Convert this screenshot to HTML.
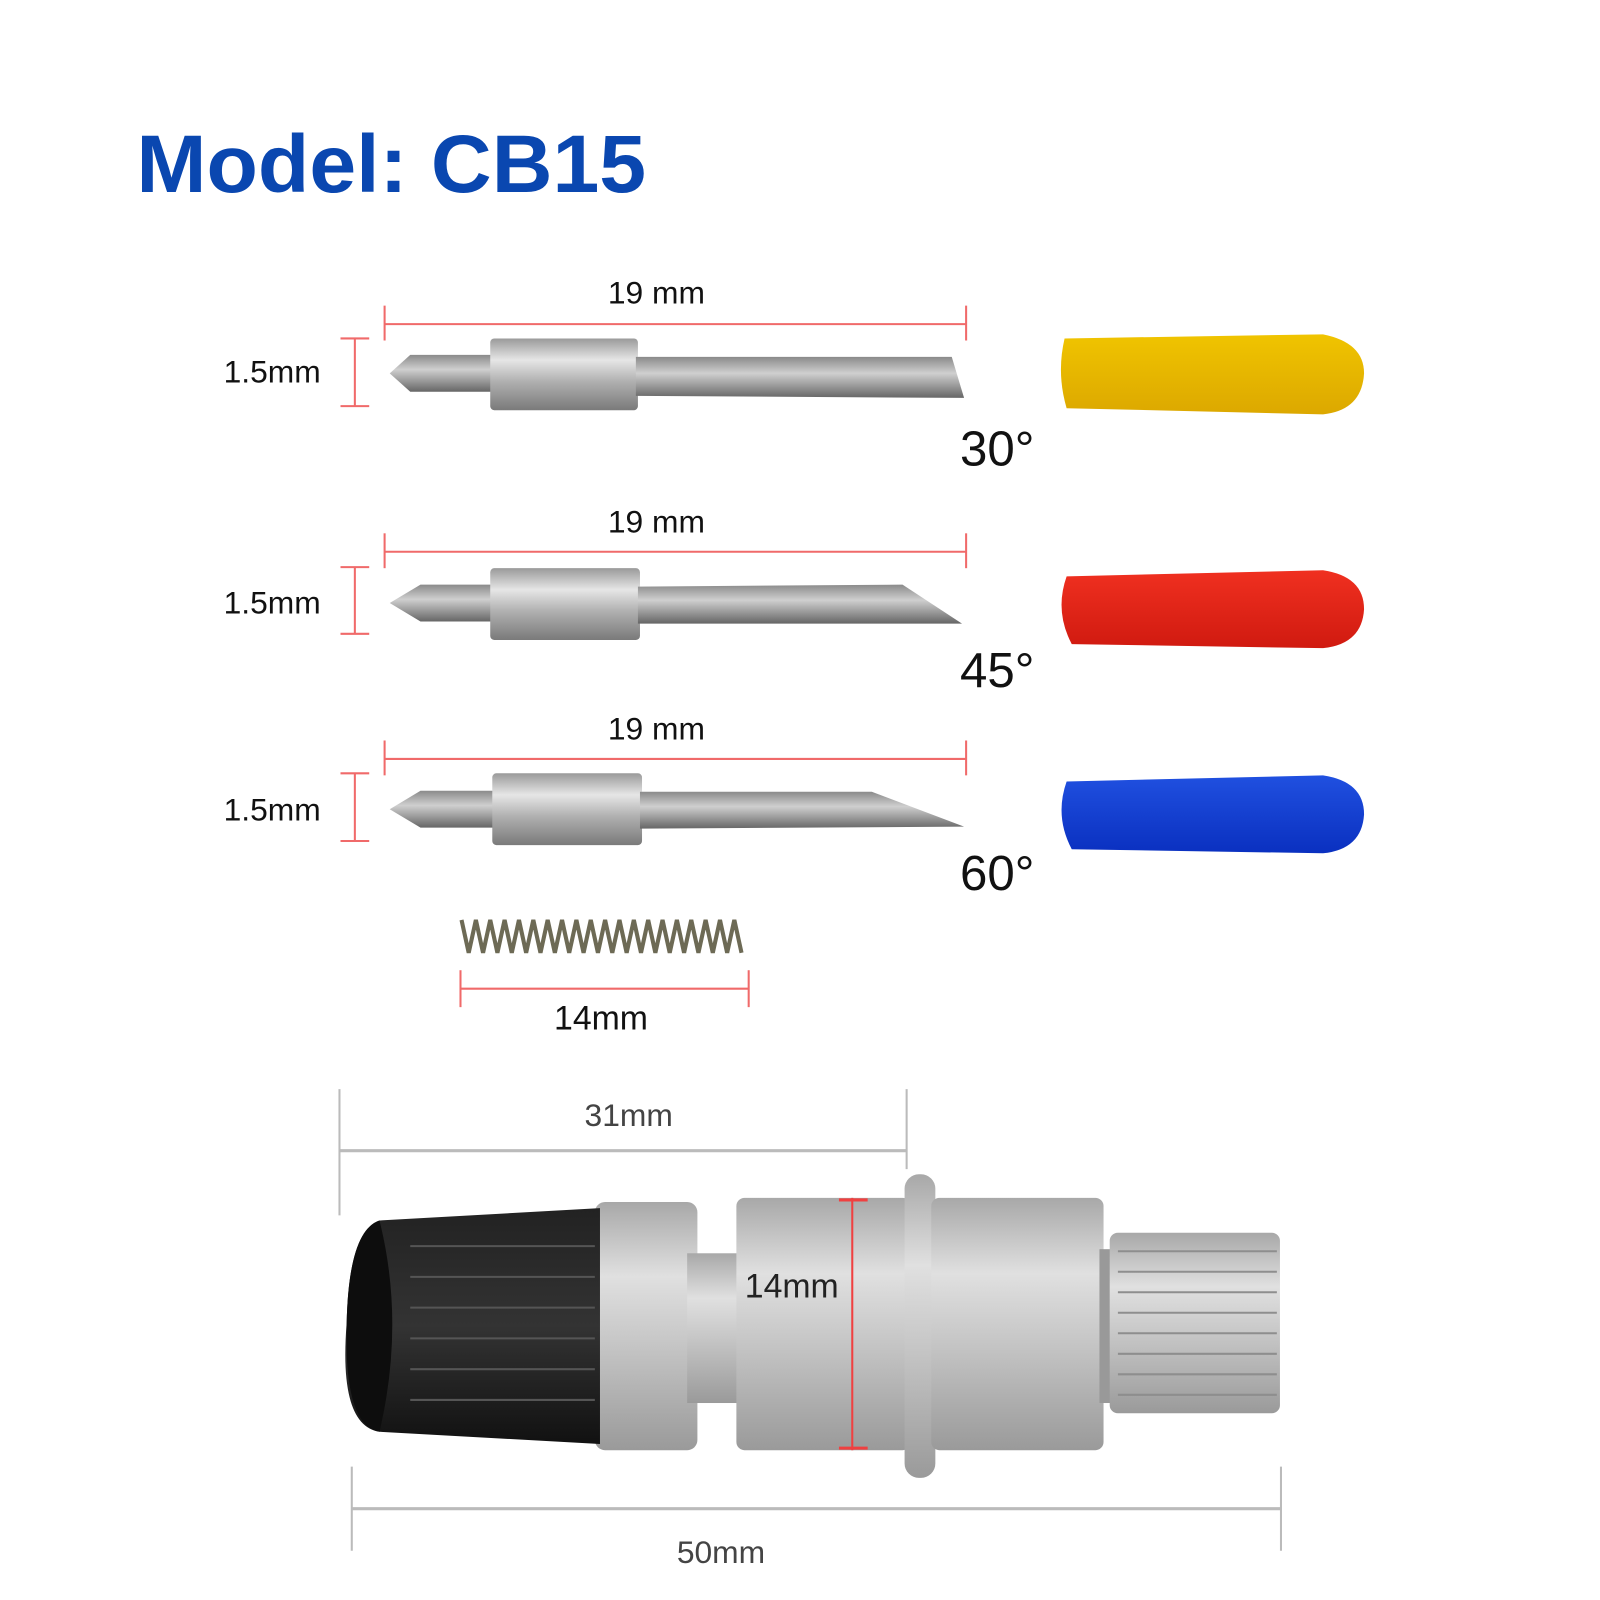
<!DOCTYPE html>
<html><head><meta charset="utf-8"><style>
html,body{margin:0;padding:0;background:#fff}
svg{display:block}
text{font-family:"Liberation Sans",sans-serif}
</style></head><body>
<svg width="1600" height="1600" viewBox="0 0 1600 1600" xmlns="http://www.w3.org/2000/svg">
<defs>
<linearGradient id="m" x1="0" y1="0" x2="0" y2="1">
<stop offset="0" stop-color="#9a9a9a"/><stop offset="0.3" stop-color="#e6e6e6"/><stop offset="0.6" stop-color="#b0b0b0"/><stop offset="1" stop-color="#7a7a7a"/></linearGradient>
<linearGradient id="s" x1="0" y1="0" x2="0" y2="1">
<stop offset="0" stop-color="#8a8a8a"/><stop offset="0.4" stop-color="#cfcfcf"/><stop offset="1" stop-color="#666"/></linearGradient>
<linearGradient id="b" x1="0" y1="0" x2="0" y2="1">
<stop offset="0" stop-color="#a8a8a8"/><stop offset="0.3" stop-color="#e0e0e0"/><stop offset="0.55" stop-color="#c8c8c8"/><stop offset="1" stop-color="#9a9a9a"/></linearGradient>
<linearGradient id="k" x1="0" y1="0" x2="0" y2="1">
<stop offset="0" stop-color="#222"/><stop offset="0.5" stop-color="#333"/><stop offset="1" stop-color="#111"/></linearGradient>
<linearGradient id="yl" x1="0" y1="0" x2="0" y2="1"><stop offset="0" stop-color="#f0c400"/><stop offset="1" stop-color="#dca800"/></linearGradient>
<linearGradient id="rd" x1="0" y1="0" x2="0" y2="1"><stop offset="0" stop-color="#f03020"/><stop offset="1" stop-color="#d01a10"/></linearGradient>
<linearGradient id="bl" x1="0" y1="0" x2="0" y2="1"><stop offset="0" stop-color="#2050e0"/><stop offset="1" stop-color="#0a30c0"/></linearGradient>
</defs>
<g transform="scale(1.0256)">
<text x="133" y="187" font-size="80" font-weight="bold" fill="#0a47b0" textLength="497" lengthAdjust="spacingAndGlyphs">Model: CB15</text>

<g>
<line x1="375" y1="316" x2="942" y2="316" stroke="#f06a6a" stroke-width="2"/>
<line x1="375" y1="298" x2="375" y2="332" stroke="#f06a6a" stroke-width="2"/>
<line x1="942" y1="298" x2="942" y2="332" stroke="#f06a6a" stroke-width="2"/>
<text x="640" y="296" font-size="31" text-anchor="middle" fill="#111">19 mm</text>
<line x1="346" y1="330" x2="346" y2="396" stroke="#f06a6a" stroke-width="2"/>
<line x1="332" y1="330" x2="360" y2="330" stroke="#f06a6a" stroke-width="2"/>
<line x1="332" y1="396" x2="360" y2="396" stroke="#f06a6a" stroke-width="2"/>
<text x="218" y="373" font-size="31" fill="#111">1.5mm</text>
<polygon points="380,364 400,346 480,346 480,382 400,382" fill="url(#s)"/>
<rect x="478" y="330" width="144" height="70" rx="4" fill="url(#m)"/>
<polygon points="620,348 928,348 940,388 620,386" fill="url(#s)"/>
<text x="936" y="454" font-size="48" fill="#111">30°</text>
<path d="M1038,330 L1290,326 Q1330,334 1330,364 Q1328,400 1290,404 L1040,398 Q1030,364 1038,330Z" fill="url(#yl)"/>
</g>
<g>
<line x1="375" y1="538" x2="942" y2="538" stroke="#f06a6a" stroke-width="2"/>
<line x1="375" y1="520" x2="375" y2="554" stroke="#f06a6a" stroke-width="2"/>
<line x1="942" y1="520" x2="942" y2="554" stroke="#f06a6a" stroke-width="2"/>
<text x="640" y="519" font-size="31" text-anchor="middle" fill="#111">19 mm</text>
<line x1="346" y1="553" x2="346" y2="618" stroke="#f06a6a" stroke-width="2"/>
<line x1="332" y1="553" x2="360" y2="553" stroke="#f06a6a" stroke-width="2"/>
<line x1="332" y1="618" x2="360" y2="618" stroke="#f06a6a" stroke-width="2"/>
<text x="218" y="598" font-size="31" fill="#111">1.5mm</text>
<polygon points="380,588 410,570 480,570 480,606 410,606" fill="url(#s)"/>
<rect x="478" y="554" width="146" height="70" rx="4" fill="url(#m)"/>
<polygon points="622,572 880,570 938,608 622,608" fill="url(#s)"/>
<text x="936" y="670" font-size="48" fill="#111">45°</text>
<path d="M1040,562 L1290,556 Q1330,562 1330,594 Q1328,628 1290,632 L1045,628 Q1028,596 1040,562Z" fill="url(#rd)"/>
</g>
<g>
<line x1="375" y1="740" x2="942" y2="740" stroke="#f06a6a" stroke-width="2"/>
<line x1="375" y1="722" x2="375" y2="756" stroke="#f06a6a" stroke-width="2"/>
<line x1="942" y1="722" x2="942" y2="756" stroke="#f06a6a" stroke-width="2"/>
<text x="640" y="721" font-size="31" text-anchor="middle" fill="#111">19 mm</text>
<line x1="346" y1="754" x2="346" y2="820" stroke="#f06a6a" stroke-width="2"/>
<line x1="332" y1="754" x2="360" y2="754" stroke="#f06a6a" stroke-width="2"/>
<line x1="332" y1="820" x2="360" y2="820" stroke="#f06a6a" stroke-width="2"/>
<text x="218" y="800" font-size="31" fill="#111">1.5mm</text>
<polygon points="380,789 410,771 482,771 482,807 410,807" fill="url(#s)"/>
<rect x="480" y="754" width="146" height="70" rx="4" fill="url(#m)"/>
<polygon points="624,772 850,772 940,806 624,808" fill="url(#s)"/>
<text x="936" y="868" font-size="48" fill="#111">60°</text>
<path d="M1040,762 L1290,756 Q1330,762 1330,794 Q1328,828 1290,832 L1045,828 Q1028,796 1040,762Z" fill="url(#bl)"/>
</g>
<path d="M450,897 l7,32 l7,-32 l7,32 l7,-32 l7,32 l7,-32 l7,32 l7,-32 l7,32 l7,-32 l7,32 l7,-32 l7,32 l7,-32 l7,32 l7,-32 l7,32 l7,-32 l7,32 l7,-32 l7,32 l7,-32 l7,32 l7,-32 l7,32 l7,-32 l7,32 l7,-32 l7,32 l7,-32 l7,32 l7,-32 l7,32 l7,-32 l7,32 l7,-32 l7,32 l7,-32 l7,32" fill="none" stroke="#6d6a55" stroke-width="4"/>
<line x1="449" y1="964" x2="730" y2="964" stroke="#f06a6a" stroke-width="2"/>
<line x1="449" y1="946" x2="449" y2="982" stroke="#f06a6a" stroke-width="2"/>
<line x1="730" y1="946" x2="730" y2="982" stroke="#f06a6a" stroke-width="2"/>
<text x="586" y="1004" font-size="33" text-anchor="middle" fill="#111">14mm</text>

<line x1="331" y1="1062" x2="331" y2="1185" stroke="#bbb" stroke-width="2"/>
<line x1="884" y1="1062" x2="884" y2="1140" stroke="#bbb" stroke-width="2"/>
<line x1="331" y1="1122" x2="884" y2="1122" stroke="#bbb" stroke-width="3"/>
<text x="613" y="1098" font-size="31" text-anchor="middle" fill="#444">31mm</text>
<rect x="580" y="1172" width="100" height="242" rx="10" fill="url(#b)"/>
<rect x="670" y="1222" width="50" height="146" fill="url(#b)"/>
<rect x="718" y="1168" width="170" height="246" rx="8" fill="url(#b)"/>
<rect x="882" y="1145" width="30" height="296" rx="14" fill="url(#b)"/>
<rect x="908" y="1168" width="168" height="246" rx="8" fill="url(#b)"/>
<rect x="1072" y="1218" width="20" height="150" fill="#999"/>
<rect x="1082" y="1202" width="166" height="176" rx="8" fill="url(#b)"/>
<g stroke="#8e8e8e" stroke-width="2">
<line x1="1090" y1="1220" x2="1245" y2="1220"/><line x1="1090" y1="1240" x2="1245" y2="1240"/><line x1="1090" y1="1260" x2="1245" y2="1260"/><line x1="1090" y1="1280" x2="1245" y2="1280"/><line x1="1090" y1="1300" x2="1245" y2="1300"/><line x1="1090" y1="1320" x2="1245" y2="1320"/><line x1="1090" y1="1340" x2="1245" y2="1340"/><line x1="1090" y1="1360" x2="1245" y2="1360"/></g>
<path d="M370,1190 L585,1178 L585,1408 L370,1396 Q330,1390 338,1290 Q340,1200 370,1190Z" fill="url(#k)"/>
<path d="M370,1190 Q340,1200 338,1290 Q335,1390 370,1396 Q395,1290 370,1190Z" fill="#0d0d0d"/>
<g stroke="#555" stroke-width="2">
<line x1="400" y1="1215" x2="580" y2="1215"/><line x1="400" y1="1245" x2="580" y2="1245"/><line x1="400" y1="1275" x2="580" y2="1275"/><line x1="400" y1="1305" x2="580" y2="1305"/><line x1="400" y1="1335" x2="580" y2="1335"/><line x1="400" y1="1365" x2="580" y2="1365"/></g>
<line x1="831" y1="1168" x2="831" y2="1414" stroke="#f04040" stroke-width="2"/>
<line x1="818" y1="1170" x2="846" y2="1170" stroke="#f04040" stroke-width="3"/>
<line x1="818" y1="1412" x2="846" y2="1412" stroke="#f04040" stroke-width="3"/>
<text x="772" y="1265" font-size="33" text-anchor="middle" fill="#222">14mm</text>
<line x1="343" y1="1430" x2="343" y2="1512" stroke="#bbb" stroke-width="2"/>
<line x1="1249" y1="1430" x2="1249" y2="1512" stroke="#bbb" stroke-width="2"/>
<line x1="343" y1="1471" x2="1249" y2="1471" stroke="#bbb" stroke-width="3"/>
<text x="703" y="1524" font-size="31" text-anchor="middle" fill="#444">50mm</text>
</g>
</svg>
</body></html>
